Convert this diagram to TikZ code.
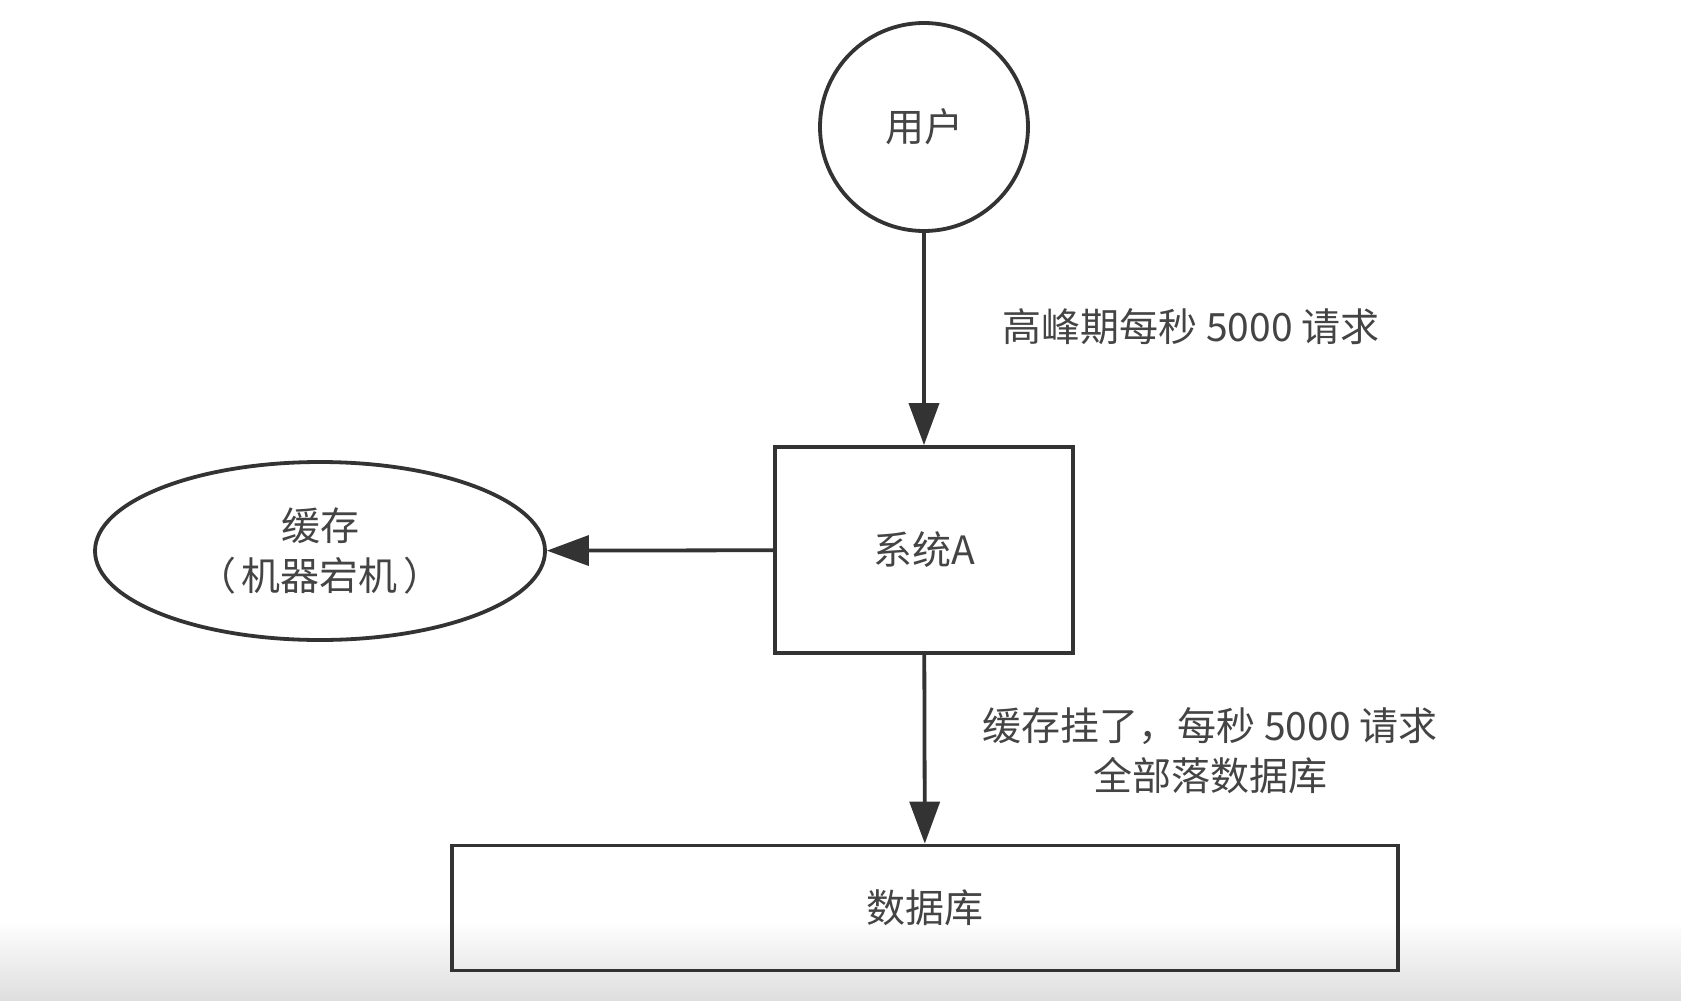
\documentclass[tikz,border=0pt]{standalone}
\usepackage{fontspec}
\newfontfamily\cjk{Noto Sans CJK SC}
\usetikzlibrary{arrows.meta,shapes.geometric}
\definecolor{ink}{HTML}{333333}
\definecolor{txt}{HTML}{444444}
\begin{document}
\begin{tikzpicture}[x=0.5pt,y=-0.5pt,
  every node/.style={font=\cjk\fontsize{19.5pt}{25pt}\selectfont, text=txt},
  shapeline/.style={draw=ink, line width=1.9pt},
  conn/.style={draw=ink, line width=1.9pt, -{Triangle[length=21pt,width=15pt]}},
  lbl/.style={align=center, inner sep=0pt}]
\useasboundingbox (0,0) rectangle (1681,1001);
\fill[white] (0,0) rectangle (1681,1001);
\shade[top color=white, bottom color=black!13] (0,920) rectangle (1681,1001);
\node[shapeline, circle, minimum size=104pt, inner sep=0pt] (user) at (924,127) {用户};
\node[shapeline, rectangle, minimum width=149pt, minimum height=103pt] (sys) at (924,550) {系统A};
\node[shapeline, ellipse, minimum width=225pt, minimum height=89pt, inner sep=0pt, align=center] (cache) at (320,551) {缓存\\（\hspace{3pt}机器宕机\hspace{3pt}）};
\node[shapeline, rectangle, minimum width=473pt, minimum height=62.5pt] (db) at (925,908) {数据库};
\draw[conn] (user) -- (sys);
\draw[conn] (sys) -- (db);
\draw[conn] (sys) -- (cache);
\node[lbl] (l1) at (1191,327) {高峰期每秒 5000 请求};
\node[lbl] (l2) at (1210,751) {缓存挂了，每秒 5000 请求\\全部落数据库};
\end{tikzpicture}
\end{document}
